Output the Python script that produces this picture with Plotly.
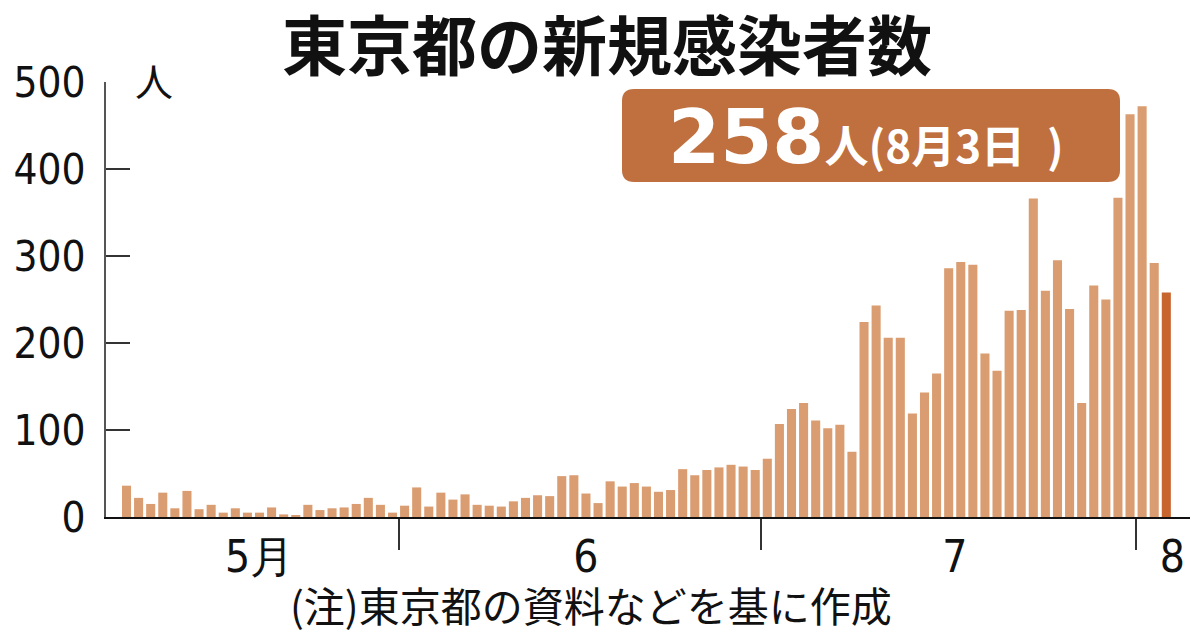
import pandas as pd
import plotly.graph_objects as go

# ---- data (daily new cases, Tokyo, 2020-05-09 .. 2020-08-03) ----
start_date = "2020-05-09"
may_vals = [36, 22, 15, 28, 10, 30, 9, 14, 5, 10, 5, 5, 11, 3, 2, 14, 8, 10, 11, 15, 22, 14, 5]
june_vals = [13, 34, 12, 28, 20, 26, 14, 13, 12, 18, 22, 25, 24, 47, 48, 27, 16, 41, 35, 39,
             35, 29, 31, 55, 48, 54, 57, 60, 58, 54]
july_vals = [67, 107, 124, 131, 111, 102, 106, 75, 224, 243, 206, 206, 119, 143, 165, 286,
             293, 290, 188, 168, 237, 238, 366, 260, 295, 239, 131, 266, 250, 367, 463]
aug_vals = [472, 292, 258]
values = may_vals + june_vals + july_vals + aug_vals
dates = pd.date_range(start_date, periods=len(values), freq="D")

month_labels = ["5月", "6", "7", "8"]
month_label_pos = ["2020-05-20 00:00", "2020-06-16 00:00", "2020-07-16 12:00", "2020-08-03 12:00"]
month_bounds = ["2020-05-31 12:00", "2020-06-30 12:00", "2020-07-31 12:00"]
y_ticks = [0, 100, 200, 300, 400, 500]

BAR = "#da9d71"
BAR_LAST = "#c8652f"
BOX = "#c0703f"

colors = [BAR] * (len(values) - 1) + [BAR_LAST]

# ---- geometry (page pixels; the page body adds an 8px offset) ----
OFF = 8
W, H = 1200 - OFF, 630 - OFF
PLOT_L, PLOT_R, PLOT_T, PLOT_B = 106, 1190, 82, 517   # page pixels
PW, PH = PLOT_R - PLOT_L, PLOT_B - PLOT_T
L = PLOT_L - OFF
T = PLOT_T - OFF
R = W - (PLOT_R - OFF)
B = H - (PLOT_B - OFF)


def px(x):
    return (x - PLOT_L) / PW


def py(y):
    return (PLOT_B - y) / PH


def rounded_rect(x0, y0, x1, y1, r):
    pts = [
        f"M {px(x0 + r)},{py(y0)}",
        f"L {px(x1 - r)},{py(y0)}",
        f"Q {px(x1)},{py(y0)} {px(x1)},{py(y0 + r)}",
        f"L {px(x1)},{py(y1 - r)}",
        f"Q {px(x1)},{py(y1)} {px(x1 - r)},{py(y1)}",
        f"L {px(x0 + r)},{py(y1)}",
        f"Q {px(x0)},{py(y1)} {px(x0)},{py(y1 - r)}",
        f"L {px(x0)},{py(y0 + r)}",
        f"Q {px(x0)},{py(y0)} {px(x0 + r)},{py(y0)}",
        "Z",
    ]
    return " ".join(pts)


fig = go.Figure()
fig.add_trace(go.Bar(x=dates, y=values, marker=dict(color=colors, line=dict(width=0)),
                     hoverinfo="x+y"))

x0 = pd.Timestamp(start_date) - pd.Timedelta(days=1.696)
x1 = pd.Timestamp(start_date) + pd.Timedelta(days=87.96)

NUM_FONT = "Liberation Sans Narrow, DejaVu Sans Condensed, Liberation Sans, Arial, sans-serif"
CJK = "Noto Sans CJK JP, sans-serif"

fig.update_layout(
    width=W, height=H,
    margin=dict(l=L, r=R, t=T, b=B, pad=0, autoexpand=False),
    paper_bgcolor="white", plot_bgcolor="white",
    bargap=0.25, showlegend=False,
    xaxis=dict(
        type="date", range=[x0, x1], automargin=False,
        showline=True, linecolor="#111", linewidth=2,
        showgrid=False, zeroline=False,
        tickmode="array", tickvals=month_label_pos, ticktext=month_labels,
        ticks="", ticklabelstandoff=0,
        tickfont=dict(family=NUM_FONT, size=44, color="#111"),
        minor=dict(tickmode="array", tickvals=month_bounds, ticks="outside",
                   ticklen=31, tickwidth=2, tickcolor="#333", showgrid=False),
        fixedrange=True,
    ),
    yaxis=dict(
        range=[0, 500], automargin=False,
        showline=True, linecolor="#555", linewidth=2,
        showgrid=False, zeroline=False,
        tickmode="array", tickvals=y_ticks, ticktext=[str(v) for v in y_ticks],
        ticks="inside", ticklen=24, tickwidth=2, tickcolor="#333",
        ticklabelstandoff=10,
        tickfont=dict(family=NUM_FONT, size=42, color="#111"),
        fixedrange=True,
    ),
    shapes=[dict(type="path", xref="paper", yref="paper",
                 path=rounded_rect(622, 89, 1120, 182, 12),
                 fillcolor=BOX, line=dict(width=0), layer="above")],
)

annotations = [
    dict(text="<b>東京都の新規感染者数</b>", x=px(607), y=py(42), xref="paper", yref="paper",
         showarrow=False, font=dict(family=CJK, size=65, color="#111"),
         xanchor="center", yanchor="middle"),
    dict(text="人", x=px(154), y=py(79), xref="paper", yref="paper",
         showarrow=False, font=dict(family=CJK, size=38, color="#111"),
         xanchor="center", yanchor="middle"),
    dict(text="<span style='font-family:DejaVu Sans;font-size:75px'><b>258</b></span>"
              "<b>人(8月3日\u2002)</b>",
         x=px(866), y=py(137), xref="paper", yref="paper",
         showarrow=False, font=dict(family=CJK, size=44, color="white"),
         xanchor="center", yanchor="middle"),
    dict(text="(注)東京都の資料などを基に作成", x=px(591), y=py(604), xref="paper", yref="paper",
         showarrow=False, font=dict(family=CJK, size=41, color="#111"),
         xanchor="center", yanchor="middle"),
]
fig.update_layout(annotations=annotations)

fig.write_html("out.html", config={"displayModeBar": False})
